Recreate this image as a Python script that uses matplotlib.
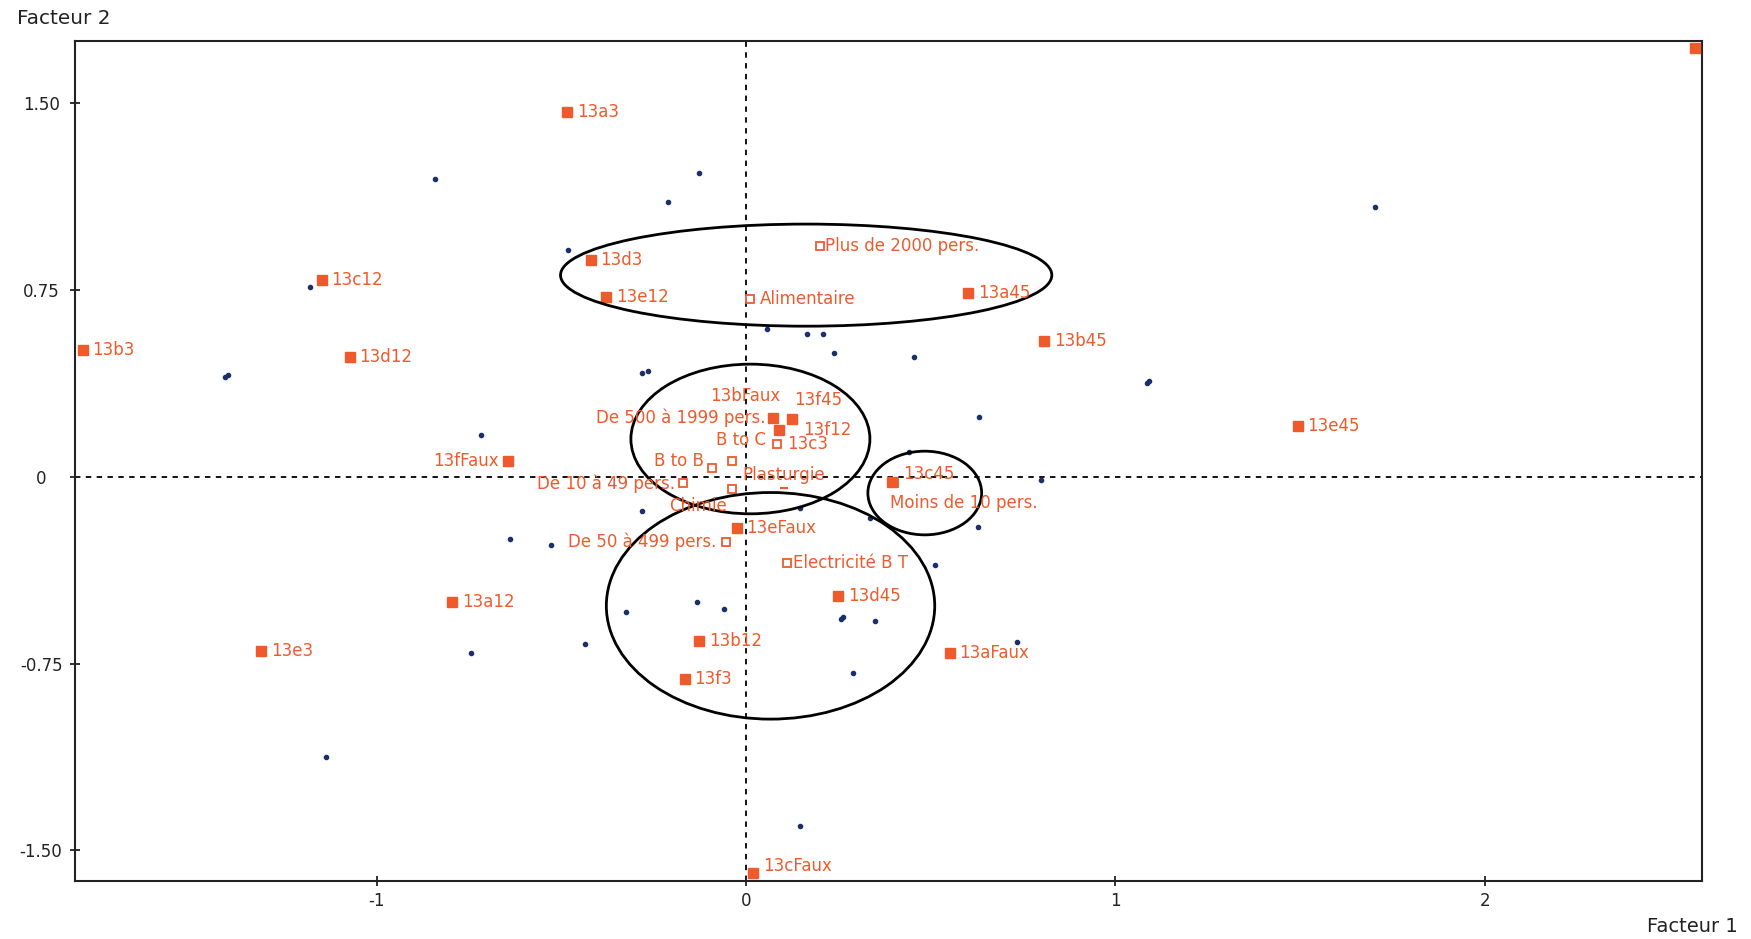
import matplotlib
matplotlib.use("Agg")
import matplotlib.pyplot as plt
from matplotlib.patches import Ellipse

# ---------------- data ----------------
# active categories (filled orange squares)
cat_labels = ["13a3", "13d3", "13e12", "13c12", "13b3", "13d12", "13a45", "13b45",
              "13e45", "", "13bFaux", "13f45", "13f12", "13fFaux", "13eFaux",
              "13c45", "13d45", "13b12", "13f3", "13aFaux", "13cFaux", "13a12", "13e3"]
cat_x = [-0.484, -0.420, -0.378, -1.149, -1.796, -1.073, 0.602, 0.807,
         1.494, 2.570, 0.074, 0.124, 0.090, -0.644, -0.025,
         0.396, 0.250, -0.127, -0.166, 0.552, 0.020, -0.795, -1.312]
cat_y = [1.466, 0.870, 0.722, 0.789, 0.511, 0.480, 0.740, 0.547,
         0.206, 1.722, 0.238, 0.231, 0.187, 0.063, -0.204,
         -0.019, -0.477, -0.659, -0.812, -0.709, -1.592, -0.502, -0.700]

# supplementary categories (open orange squares)
sup_labels = ["Plus de 2000 pers.", "Alimentaire", "De 500 à 1999 pers.", "13c3",
              "B to C", "B to B", "De 10 à 49 pers.", "Chimie", "De 50 à 499 pers.",
              "Moins de 10 pers.", "Electricité B T"]
sup_x = [0.200, 0.012, 0.076, 0.085, -0.037, -0.093, -0.170, -0.037, -0.055, 0.400, 0.112]
sup_y = [0.928, 0.713, 0.236, 0.132, 0.065, 0.034, -0.026, -0.050, -0.261, -0.025, -0.345]

# partially hidden supplementary point
plast_label = ["Plasturgie"]
plast_x = [0.103]
plast_y = [-0.045]

# individuals (small navy dots)
ind_x = [-0.841, -0.127, -0.212, -0.481, -1.179, 1.702, -1.409, -1.403, -0.281, -0.266,
         0.057, 0.166, 0.209, 0.239, 0.454, 1.086, 1.092, 0.632, -0.717, 0.798,
         -0.281, -0.638, -0.529, 0.336, 0.629, 0.511, 0.146, -0.324, -0.133, -0.060,
         -0.435, -0.744, 0.257, 0.263, 0.348, 0.290, 0.735, -1.137, 0.145, 0.440]
ind_y = [1.197, 1.220, 1.103, 0.910, 0.762, 1.085, 0.399, 0.408, 0.417, 0.426,
         0.592, 0.574, 0.574, 0.498, 0.480, 0.377, 0.386, 0.242, 0.166, -0.013,
         -0.139, -0.251, -0.274, -0.166, -0.202, -0.354, -0.126, -0.543, -0.502, -0.529,
         -0.673, -0.709, -0.570, -0.561, -0.578, -0.789, -0.664, -1.126, -1.404, 0.101]

# hand-drawn groupings (centre x, centre y, width, height)
ell_cx = [0.163, 0.012, 0.484, 0.0665]
ell_cy = [0.810, 0.152, -0.065, -0.518]
ell_w = [1.330, 0.647, 0.308, 0.889]
ell_h = [0.410, 0.601, 0.336, 0.910]

x_ticks = [-1, 0, 1, 2]
x_tick_labels = ["-1", "0", "1", "2"]
y_ticks = [1.5, 0.75, 0, -0.75, -1.5]
y_tick_labels = ["1.50", "0.75", "0", "-0.75", "-1.50"]

# ---------------- label layout (offset points, alignment) ----------------
default_off = (7, 0, "left")
cat_off = {
    "13bFaux": (5, 15.5, "right"),
    "13f45": (2, 14, "left"),
    "13f12": (17, 0, "left"),
    "13fFaux": (-7, 0, "right"),
    "13c45": (8, 5.5, "left"),
    "13cFaux": (7, 5.5, "left"),
}
sup_off = {
    "Plus de 2000 pers.": (4, 0, "left"),
    "Alimentaire": (7, 0, "left"),
    "De 500 à 1999 pers.": (-6, 0, "right"),
    "13c3": (7, 0, "left"),
    "B to C": (24, 15, "right"),
    "B to B": (-5.5, 5.5, "right"),
    "De 10 à 49 pers.": (-6, 0, "right"),
    "Chimie": (-4, -12, "right"),
    "De 50 à 499 pers.": (-7, 0, "right"),
    "Moins de 10 pers.": (-3, -14.5, "left"),
    "Electricité B T": (4, 0, "left"),
}
plast_off = {"Plasturgie": (-30, 9.5, "left")}

# ---------------- drawing ----------------
ORANGE = "#EE5A2C"
NAVY = "#1B2F6B"
plt.rcParams["font.family"] = ["DejaVu Sans"]

fig = plt.figure(figsize=(17.51, 9.39), dpi=100)
ax = fig.add_axes([0.0427, 0.0618, 0.9293, 0.8942])
ax.set_xlim(-1.817, 2.588)
ax.set_ylim(-1.623, 1.749)

ax.axhline(0, color="black", lw=1.3, ls=(0, (3, 3)), zorder=1)
ax.axvline(0, color="black", lw=1.3, ls=(0, (3, 3)), zorder=1)

for cx, cy, w, h in zip(ell_cx, ell_cy, ell_w, ell_h):
    ax.add_patch(Ellipse((cx, cy), w, h, fill=False, edgecolor="black", lw=2.0, zorder=4))

ax.plot(ind_x, ind_y, "o", color=NAVY, ms=3, zorder=2, clip_on=False)
ax.plot(sup_x, sup_y, "s", mfc="white", mec=ORANGE, mew=1.3, ms=5.5, zorder=3)
ax.plot(plast_x, plast_y, "_", color=ORANGE, mew=1.5, ms=6, zorder=3)
ax.plot(cat_x, cat_y, "s", color=ORANGE, ms=6.5, zorder=3, clip_on=False)


def label_points(labels, xs, ys, offs):
    for lab, x, y in zip(labels, xs, ys):
        if not lab:
            continue
        dx, dy, ha = offs.get(lab, default_off)
        ax.annotate(lab, (x, y), xytext=(dx, dy), textcoords="offset points",
                    ha=ha, va="center", color=ORANGE, fontsize=12, zorder=5)


label_points(cat_labels, cat_x, cat_y, cat_off)
label_points(sup_labels, sup_x, sup_y, sup_off)
label_points(plast_label, plast_x, plast_y, plast_off)

ax.set_xticks(x_ticks)
ax.set_xticklabels(x_tick_labels)
ax.set_yticks(y_ticks)
ax.set_yticklabels(y_tick_labels, ha="center")
ax.tick_params(axis="both", direction="inout", length=6.5, width=1.3, labelsize=12,
               colors="#222222")
ax.tick_params(axis="x", pad=5)
ax.tick_params(axis="y", pad=21)
for s in ax.spines.values():
    s.set_linewidth(1.5)
    s.set_color("#222222")

fig.text(17 / 1751, 1 - 19 / 939, "Facteur 2", fontsize=14.4, color="#222222",
         ha="left", va="center")
fig.text(1738 / 1751, 1 - 927 / 939, "Facteur 1", fontsize=14, color="#222222",
         ha="right", va="center")

fig.savefig("out.png", dpi=100, facecolor="white")
